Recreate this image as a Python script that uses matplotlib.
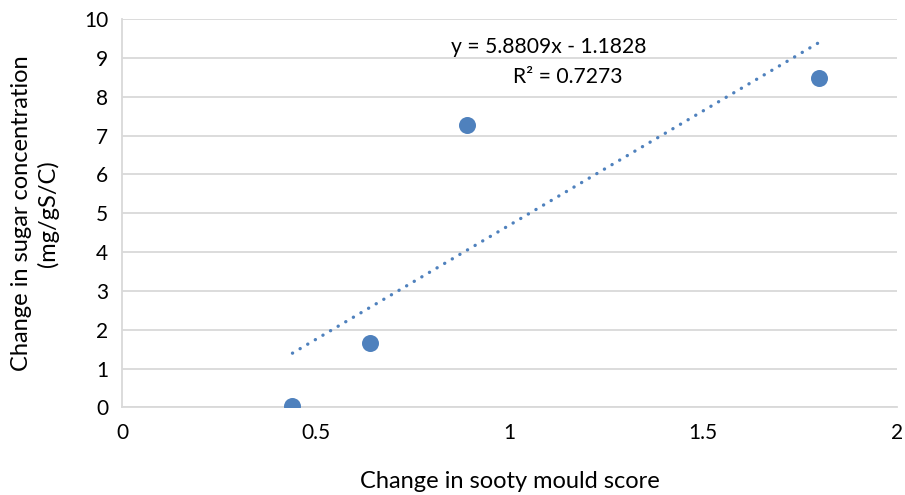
import numpy as np
import matplotlib
matplotlib.use("Agg")
import matplotlib.pyplot as plt

# data
sooty_score = [0.44, 0.64, 0.89, 1.80]
sugar_change = [0.03, 1.65, 7.27, 8.47]
x_ticks = [0, 0.5, 1, 1.5, 2]
x_tick_labels = ["0", "0.5", "1", "1.5", "2"]
y_ticks = list(range(0, 11))
equation_text = "y = 5.8809x - 1.1828"
r2_text = "R² = 0.7273"

plt.rcParams["font.family"] = ["Lato", "DejaVu Sans"]

blue = "#4F81BD"
grid_grey = "#D9D9D9"

fig = plt.figure(figsize=(9.05, 4.95), dpi=100)
ax = fig.add_axes([0.1348, 0.1768, 0.8562, 0.7848])

ax.scatter(sooty_score, sugar_change, s=150, color=blue, zorder=3, linewidths=0)

# linear trendline across the data range
slope, intercept = np.polyfit(sooty_score, sugar_change, 1)
xs = np.array([min(sooty_score), max(sooty_score)])
ax.plot(xs, slope * xs + intercept, color=blue, lw=2.4,
        linestyle=(0, (0.05, 2.6)), dash_capstyle="round", zorder=2)

ax.text(1.102, 9.28, equation_text, ha="center", va="center", fontsize=15.2)
ax.text(1.150, 8.50, r2_text, ha="center", va="center", fontsize=15.2)

ax.set_xlim(0, 2)
ax.set_ylim(0, 10)
ax.set_xticks(x_ticks)
ax.set_xticklabels(x_tick_labels)
ax.set_yticks(y_ticks)
ax.tick_params(length=0, labelsize=15, pad=11)
ax.tick_params(axis="y", pad=10)

ax.yaxis.grid(True, color=grid_grey, lw=1.3)
ax.set_axisbelow(True)
for side in ["top", "right"]:
    ax.spines[side].set_visible(False)
for side in ["left", "bottom"]:
    ax.spines[side].set_color(grid_grey)
    ax.spines[side].set_linewidth(1.3)

ax.set_xlabel("Change in sooty mould score", fontsize=17, labelpad=20)
ax.set_ylabel("Change in sugar concentration\n(mg/gS/C)", fontsize=17,
              labelpad=18, linespacing=1.25)

fig.savefig("out.png", dpi=100)
